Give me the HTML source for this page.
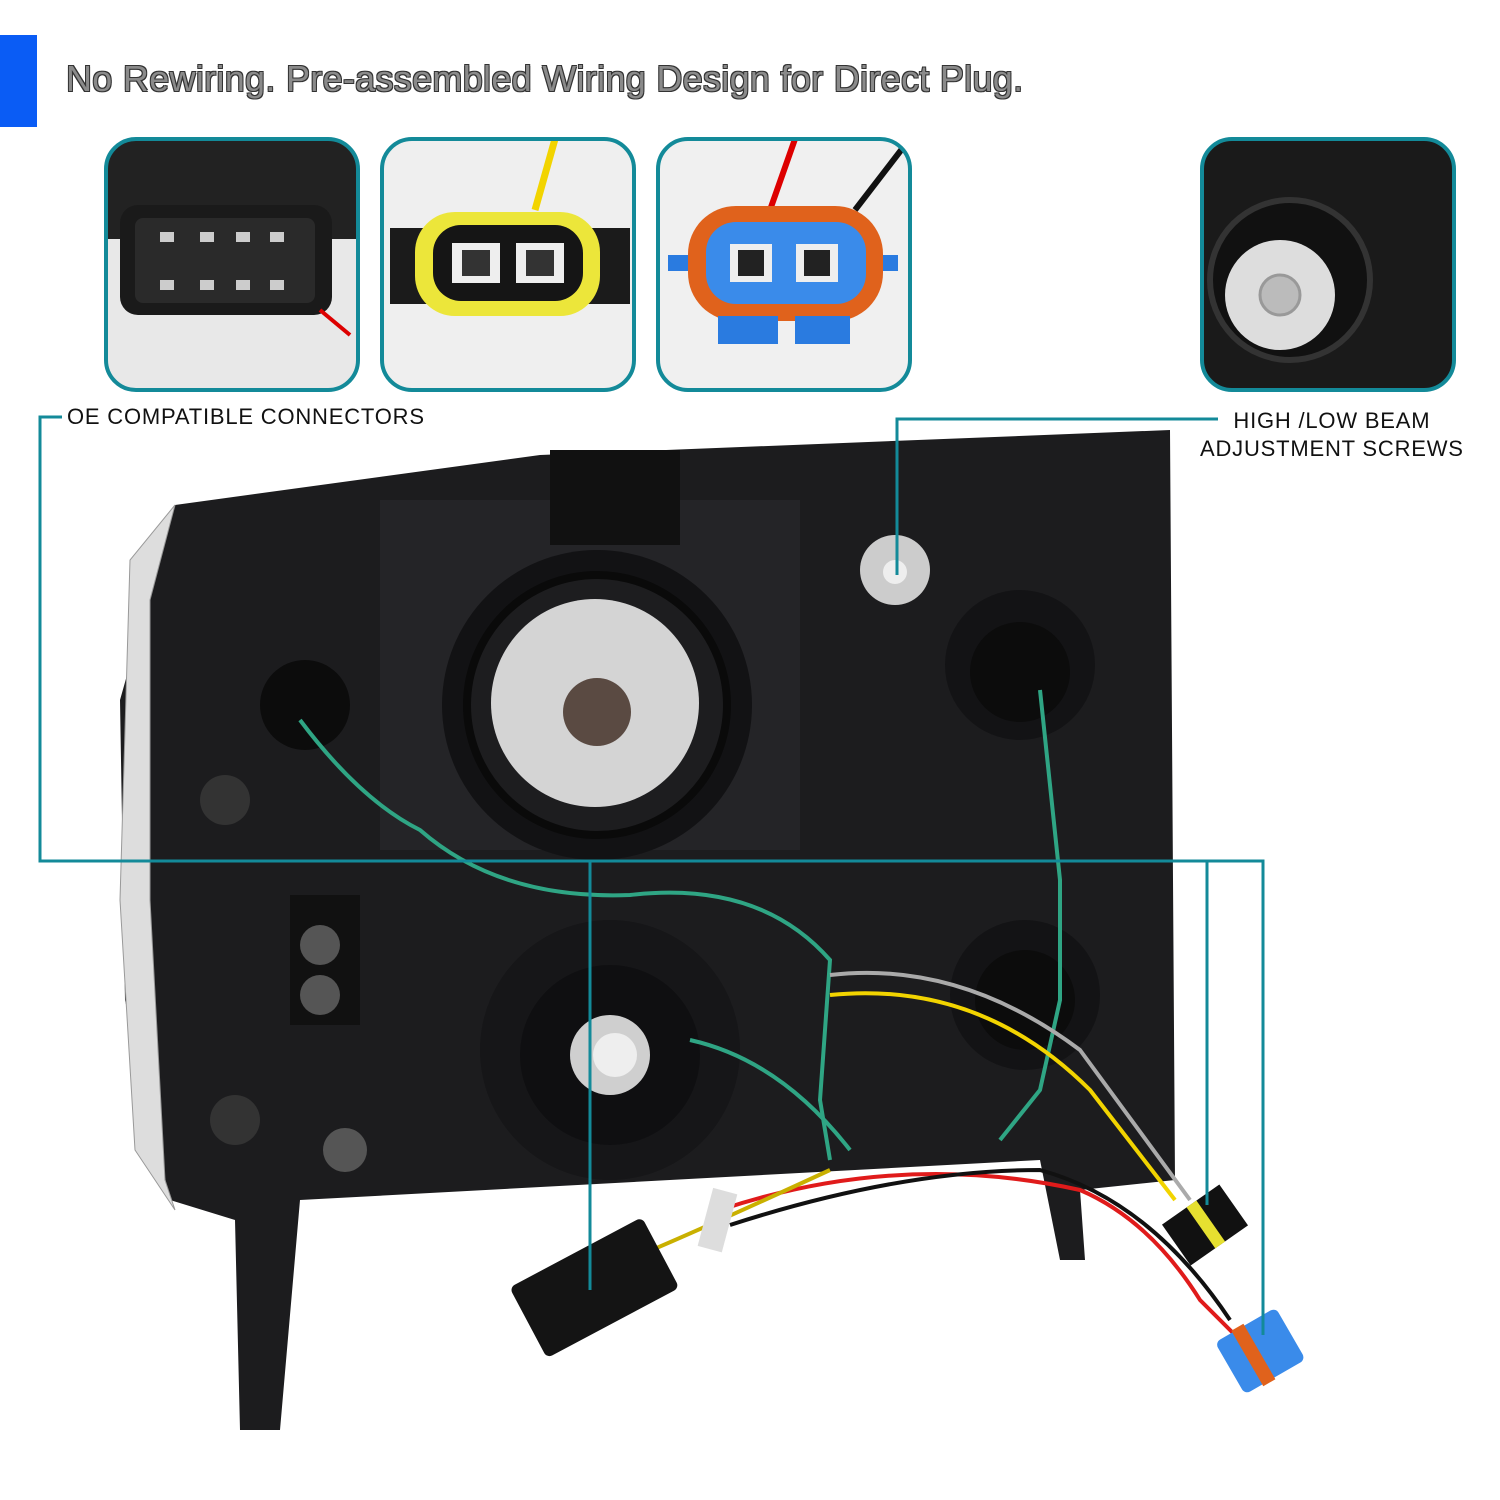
<!DOCTYPE html>
<html><head><meta charset="utf-8"><style>
html,body{margin:0;padding:0;background:#fff;}
body{width:1500px;height:1500px;position:relative;overflow:hidden;font-family:"Liberation Sans",sans-serif;}
.title{position:absolute;left:66px;top:58px;font-size:36px;color:#8a8a8a;letter-spacing:0.3px;
text-shadow:-1px -1px 0 #333,1px -1px 0 #333,-1px 1px 0 #333,1px 1px 0 #333;}
.lbl{position:absolute;font-size:22px;color:#111;letter-spacing:0.8px;}
</style></head><body>
<div style="position:absolute;left:0;top:35px;width:37px;height:92px;background:#0a5cf5"></div>
<div class="title">No Rewiring. Pre-assembled Wiring Design for Direct Plug.</div>
<svg width="1500" height="1500" style="position:absolute;left:0;top:0">
<defs>
<clipPath id="c1"><rect x="106" y="139" width="252" height="251" rx="30"/></clipPath>
<clipPath id="c2"><rect x="382" y="139" width="252" height="251" rx="30"/></clipPath>
<clipPath id="c3"><rect x="658" y="139" width="252" height="251" rx="30"/></clipPath>
<clipPath id="c4"><rect x="1202" y="139" width="252" height="251" rx="30"/></clipPath>
</defs>
<g clip-path="url(#c1)"><rect x="106" y="139" width="252" height="251" fill="#e8e8e8"/>
<rect x="106" y="139" width="252" height="100" fill="#222"/>
<rect x="120" y="205" width="212" height="110" rx="18" fill="#1a1a1a"/>
<rect x="135" y="218" width="180" height="85" rx="8" fill="#2a2a2a"/>
<g fill="#ccc"><rect x="160" y="232" width="14" height="10"/><rect x="200" y="232" width="14" height="10"/><rect x="236" y="232" width="14" height="10"/><rect x="270" y="232" width="14" height="10"/>
<rect x="160" y="280" width="14" height="10"/><rect x="200" y="280" width="14" height="10"/><rect x="236" y="280" width="14" height="10"/><rect x="270" y="280" width="14" height="10"/></g>
<path d="M320 310 L350 335" stroke="#d00" stroke-width="4"/></g>
<rect x="106" y="139" width="252" height="251" rx="30" fill="none" stroke="#138a99" stroke-width="4"/>
<g clip-path="url(#c2)"><rect x="382" y="139" width="252" height="251" fill="#efefef"/>
<path d="M555 139 L535 210" stroke="#f2d400" stroke-width="7"/>
<rect x="390" y="228" width="240" height="76" fill="#1b1b1b"/>
<rect x="415" y="212" width="185" height="104" rx="40" fill="#ece63a"/>
<rect x="433" y="225" width="150" height="76" rx="28" fill="#151515"/>
<rect x="452" y="243" width="48" height="40" fill="#eee"/><rect x="516" y="243" width="48" height="40" fill="#eee"/>
<rect x="462" y="250" width="28" height="26" fill="#333"/><rect x="526" y="250" width="28" height="26" fill="#333"/></g>
<rect x="382" y="139" width="252" height="251" rx="30" fill="none" stroke="#138a99" stroke-width="4"/>
<g clip-path="url(#c3)"><rect x="658" y="139" width="252" height="251" fill="#f0f0f0"/>
<path d="M795 139 L770 210" stroke="#d00" stroke-width="6"/><path d="M905 145 L855 210" stroke="#111" stroke-width="6"/>
<rect x="668" y="255" width="230" height="16" fill="#2a7be0"/>
<rect x="688" y="206" width="195" height="115" rx="48" fill="#e0621c"/>
<rect x="706" y="222" width="160" height="82" rx="30" fill="#3a8bea"/>
<rect x="718" y="316" width="60" height="28" fill="#2a7be0"/><rect x="795" y="316" width="55" height="28" fill="#2a7be0"/>
<rect x="730" y="244" width="42" height="38" fill="#eee"/><rect x="796" y="244" width="42" height="38" fill="#eee"/>
<rect x="738" y="250" width="26" height="26" fill="#222"/><rect x="804" y="250" width="26" height="26" fill="#222"/></g>
<rect x="658" y="139" width="252" height="251" rx="30" fill="none" stroke="#138a99" stroke-width="4"/>
<g clip-path="url(#c4)"><rect x="1202" y="139" width="252" height="251" fill="#1a1a1a"/>
<circle cx="1290" cy="280" r="80" fill="#111" stroke="#333" stroke-width="6"/>
<circle cx="1280" cy="295" r="55" fill="#ddd"/><circle cx="1280" cy="295" r="20" fill="#bbb" stroke="#999" stroke-width="3"/></g>
<rect x="1202" y="139" width="252" height="251" rx="30" fill="none" stroke="#138a99" stroke-width="4"/>
<path d="M175 505 L540 455 L1170 430 L1175 1180 L1080 1190 L1085 1260 L1060 1260 L1040 1160 L300 1200 L280 1430 L240 1430 L235 1220 L170 1200 L125 1000 L120 700 Z" fill="#1c1c1e"/>
<path d="M175 505 L130 560 L120 900 L135 1150 L175 1210 L165 1180 L150 900 L150 600 Z" fill="#ddd" stroke="#999"/>
<rect x="380" y="500" width="420" height="350" fill="#242427"/>
<rect x="550" y="450" width="130" height="95" fill="#111"/>
<circle cx="597" cy="705" r="155" fill="#121214"/>
<circle cx="597" cy="705" r="130" fill="#1d1d1f" stroke="#0a0a0a" stroke-width="8"/>
<circle cx="595" cy="703" r="104" fill="#d4d4d4"/>
<circle cx="597" cy="712" r="34" fill="#5a4a42"/>
<circle cx="610" cy="1050" r="130" fill="#161618"/>
<circle cx="610" cy="1055" r="90" fill="#0f0f11"/>
<circle cx="610" cy="1055" r="40" fill="#cfcfcf"/><circle cx="615" cy="1055" r="22" fill="#eee"/>
<circle cx="895" cy="570" r="35" fill="#ccc"/><circle cx="895" cy="572" r="12" fill="#eee"/>
<circle cx="1020" cy="665" r="75" fill="#131315"/><circle cx="1020" cy="672" r="50" fill="#0c0c0c"/>
<circle cx="1025" cy="995" r="75" fill="#131315"/><circle cx="1025" cy="1000" r="50" fill="#0c0c0c"/>
<circle cx="305" cy="705" r="45" fill="#0c0c0c"/>
<rect x="290" y="895" width="70" height="130" fill="#111"/>
<circle cx="320" cy="945" r="20" fill="#555"/><circle cx="320" cy="995" r="20" fill="#555"/>
<circle cx="345" cy="1150" r="22" fill="#555"/>
<circle cx="225" cy="800" r="25" fill="#333"/><circle cx="235" cy="1120" r="25" fill="#333"/>
<g fill="none" stroke-width="4">
<path d="M300 720 Q360 800 420 830 Q500 900 630 895 Q760 880 830 960 L820 1100 L830 1160" stroke="#2fa584"/>
<path d="M1040 690 L1060 880 L1060 1000 L1040 1090 L1000 1140" stroke="#2fa584"/>
<path d="M830 975 Q960 960 1080 1050 L1190 1200" stroke="#aaa"/>
<path d="M830 995 Q980 980 1090 1090 L1175 1200" stroke="#f2d400"/>
<path d="M720 1210 Q900 1150 1080 1190 Q1150 1220 1200 1300 L1240 1340" stroke="#e01b1b"/>
<path d="M730 1225 Q900 1170 1040 1170 Q1150 1200 1230 1320" stroke="#111"/>
<path d="M640 1255 Q700 1230 830 1170" stroke="#c9b000"/>
<path d="M690 1040 Q780 1060 850 1150" stroke="#2fa584"/>
</g>
<g transform="rotate(-28 590 1290)"><rect x="520" y="1250" width="150" height="80" rx="6" fill="#141414"/></g>
<rect x="705" y="1190" width="25" height="60" fill="#ddd" transform="rotate(15 717 1220)"/>
<g transform="rotate(-35 1205 1225)"><rect x="1170" y="1200" width="70" height="50" fill="#111"/><rect x="1200" y="1200" width="12" height="50" fill="#e6e030"/></g>
<g transform="rotate(-30 1262 1350)"><rect x="1225" y="1320" width="70" height="60" rx="6" fill="#3a8bea"/><rect x="1245" y="1318" width="14" height="64" fill="#e0621c"/></g>
<g fill="none" stroke="#138a99" stroke-width="3">
<path d="M62 417 L40 417 L40 861 L1263 861 L1263 1335"/>
<path d="M590 861 L590 1290"/>
<path d="M1207 861 L1207 1205"/>
<path d="M1218 419 L897 419 L897 575"/>
</g>
</svg>
<div class="lbl" style="left:67px;top:404px">OE COMPATIBLE CONNECTORS</div>
<div class="lbl" style="left:1200px;top:407px;text-align:center;line-height:28px">HIGH /LOW BEAM<br>ADJUSTMENT SCREWS</div>
</body></html>
